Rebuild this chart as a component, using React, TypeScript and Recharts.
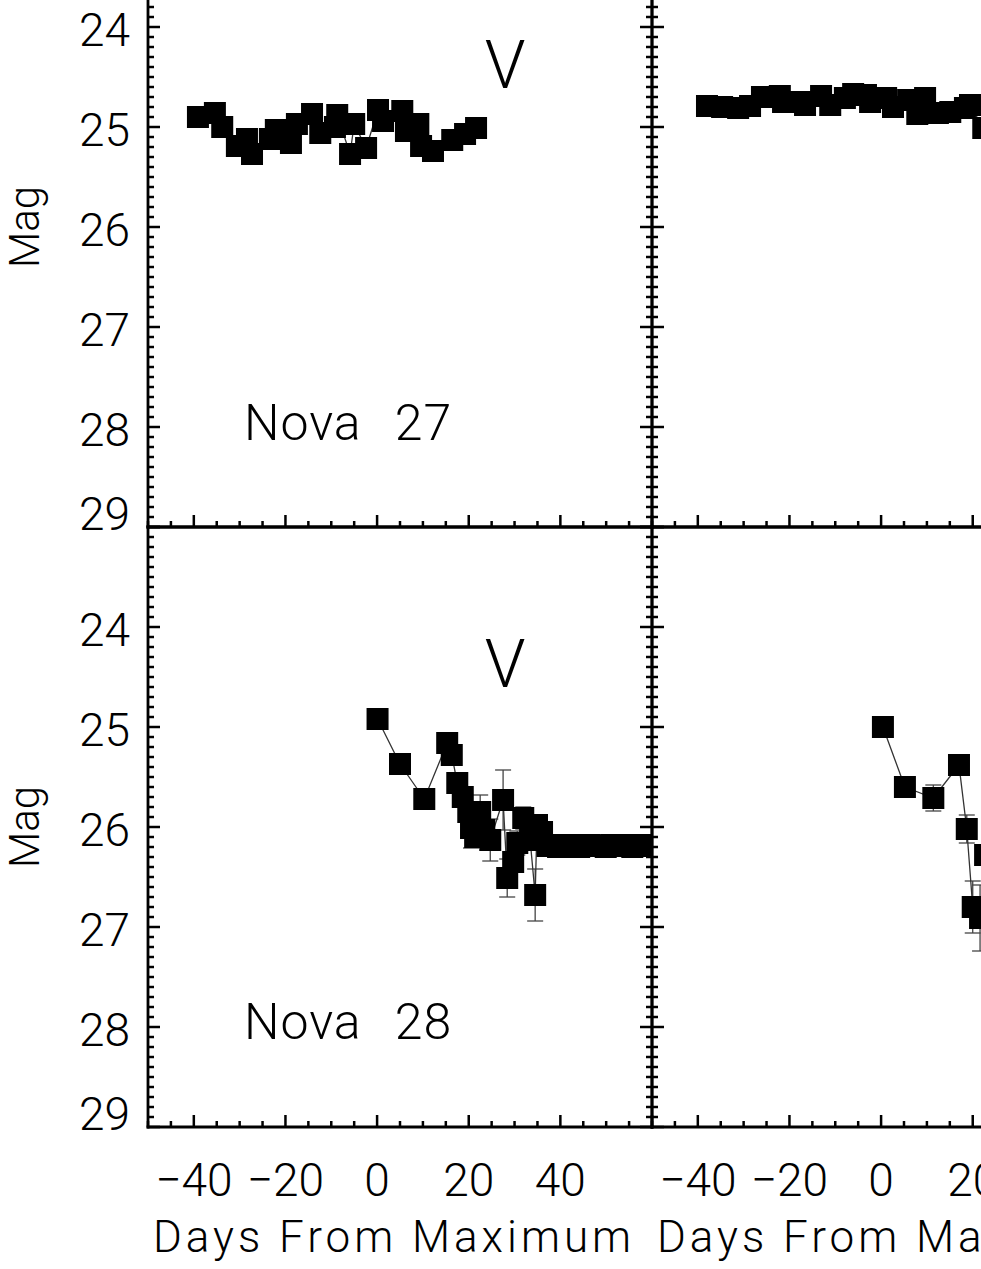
import type { ReactNode } from 'react'
import { ScatterChart, Scatter, XAxis, YAxis, ErrorBar } from 'recharts'

const FONT = "Roboto, 'Liberation Sans', Arial, sans-serif"

// axis ranges and the ticks that carry a label
const dayRange: [number, number] = [-50, 60]
const magRange: [number, number] = [23, 29]
const dayLabels = [-40, -20, 0, 20, 40]
const magLabels = [24, 25, 26, 27, 28, 29]

// Nova 27, V (left column, top row)
const n27vDays = [-39.1, -35.4, -33.8, -30.6, -28.4, -27.3, -23.4, -22.1, -18.8, -17.5, -14.2, -12.4, -9.2, -8.7, -5.9, -5.0, -2.4, 0.2, 1.3, 5.5, 6.3, 9.0, 9.6, 12.2, 16.4, 19.2, 21.6]
const n27vMags = [24.90, 24.86, 25.00, 25.19, 25.12, 25.27, 25.12, 25.03, 25.16, 24.97, 24.87, 25.06, 25.00, 24.88, 25.27, 24.97, 25.21, 24.83, 24.94, 24.84, 25.04, 24.97, 25.19, 25.24, 25.13, 25.07, 25.01]

// Nova 27, second filter (right column, top row)
const n27bDays = [-38.0, -34.7, -31.2, -28.6, -26.0, -22.1, -21.4, -17.7, -16.6, -13.1, -11.1, -7.9, -6.1, -3.3, -2.4, 1.1, 2.6, 5.9, 7.9, 9.6, 12.4, 15.1, 18.3, 19.4, 22.3]
const n27bMags = [24.79, 24.80, 24.81, 24.79, 24.70, 24.69, 24.75, 24.75, 24.78, 24.69, 24.78, 24.71, 24.67, 24.68, 24.75, 24.71, 24.80, 24.73, 24.87, 24.71, 24.86, 24.85, 24.81, 24.78, 25.01]

// Nova 28, V (left column, bottom row)
const n28vDays = [0.1, 5.0, 10.3, 15.3, 16.3, 17.5, 18.7, 19.9, 20.5, 21.4, 22.5, 23.4, 24.7, 27.5, 28.4, 29.7, 30.6, 31.9, 33.4, 34.5, 34.9, 36.0,
  37.2, 38.3, 39.5, 40.6, 41.8, 43.0, 44.1, 45.3, 46.4, 47.6, 48.8, 49.9, 51.1, 52.2, 53.4, 54.6, 55.7, 56.9, 58.0, 59.2, 60.3, 61.5]
const n28vMags = [24.92, 25.37, 25.72, 25.16, 25.28, 25.56, 25.70, 25.85, 26.01, 26.10, 25.85, 26.03, 26.13, 25.73, 26.51, 26.35, 26.16, 25.91, 26.13, 26.68, 25.98, 26.05,
  26.19, 26.18, 26.20, 26.19, 26.18, 26.19, 26.20, 26.19, 26.18, 26.19, 26.19, 26.20, 26.18, 26.19, 26.19, 26.18, 26.20, 26.19, 26.18, 26.19, 26.19, 26.18]
const n28vErrs = [0.03, 0.03, 0.06, 0.03, 0.04, 0.06, 0.08, 0.05, 0.20, 0.08, 0.17, 0.10, 0.21, 0.30, 0.19, 0.10, 0.12, 0.11, 0.10, 0.26, 0.08, 0.10,
  0, 0, 0, 0, 0, 0, 0, 0, 0, 0, 0, 0, 0, 0, 0, 0, 0, 0, 0, 0, 0, 0]

// Nova 28, second filter (right column, bottom row)
const n28bDays = [0.4, 5.2, 11.4, 17.0, 18.7, 20.0, 21.6, 22.7]
const n28bMags = [25.00, 25.60, 25.71, 25.38, 26.02, 26.80, 26.91, 26.28]
const n28bErrs = [0.03, 0.05, 0.13, 0.04, 0.14, 0.26, 0.33, 0.10]

type Row = { day: number; mag: number; err: number }

function toRows(days: number[], mags: number[], errs?: number[]): Row[] {
  return days.map((d, i) => ({ day: d, mag: mags[i], err: errs ? errs[i] : 0 }))
}

// minor + major tick positions along an axis
function stepTicks(lo: number, hi: number, step: number): number[] {
  const out: number[] = []
  const n = Math.round((hi - lo) / step)
  for (let i = 0; i <= n; i++) out.push(Math.round((lo + i * step) * 100) / 100)
  return out
}
const dayTicks = stepTicks(dayRange[0], dayRange[1], 5)
const magTicks = stepTicks(magRange[0], magRange[1], 0.1)

const textStyle = { fontFamily: FONT, fontWeight: 300, fill: '#000' }
const tickLine = { stroke: '#000', strokeWidth: 2.5 }
const frame = { stroke: '#000', strokeWidth: 2.8, strokeLinecap: 'square' as const }

const fmtDay = (v: number) => (v < 0 ? `\u2212${Math.abs(v)}` : `${v}`)

// ticks drawn inward from the frame, IDL style
function dayTick(side: 'top' | 'bottom', withLabels: boolean) {
  return (p: any) => {
    const v = p.payload.value as number
    const len = v % 20 === 0 ? 12 : 6
    const d = side === 'bottom' ? -1 : 1
    return (
      <g>
        <line x1={p.x} y1={p.y} x2={p.x} y2={p.y + d * len} {...tickLine} />
        {withLabels && dayLabels.includes(v) && (
          <text x={p.x} y={p.y + 69} textAnchor="middle" fontSize={46} style={textStyle}>
            {fmtDay(v)}
          </text>
        )}
      </g>
    )
  }
}

function magTick(side: 'left' | 'right', withLabels: boolean) {
  return (p: any) => {
    const v = p.payload.value as number
    const major = Math.abs(v - Math.round(v)) < 1e-6
    const len = major ? 12 : 6
    const d = side === 'left' ? 1 : -1
    const show = withLabels && major && magLabels.includes(Math.round(v))
    const isLast = Math.round(v) === magLabels[magLabels.length - 1]
    return (
      <g>
        <line x1={p.x} y1={p.y} x2={p.x + d * len} y2={p.y} {...tickLine} />
        {show && (
          <text x={p.x - 18} y={p.y + (isLast ? 3 : 19)} textAnchor="end" fontSize={46} style={textStyle}>
            {Math.round(v)}
          </text>
        )}
      </g>
    )
  }
}

const Square = (p: any) => {
  if (p.cx == null || p.cy == null) return null
  return <rect x={p.cx - 11} y={p.cy - 11} width={22} height={22} fill="#000" />
}

interface PanelOpts {
  rows: Row[]
  width: number
  height: number
  margin: { top: number; right: number; bottom: number; left: number }
  leftAxisW: number
  bottomAxisH: number
  yLabels: boolean
  xLabels: boolean
  errors: boolean
  extra?: ReactNode
}

function panel(o: PanelOpts) {
  return (
    <ScatterChart width={o.width} height={o.height} margin={o.margin}>
      <XAxis
        xAxisId="b"
        dataKey="day"
        type="number"
        domain={dayRange}
        allowDataOverflow
        ticks={dayTicks}
        interval={0}
        height={o.bottomAxisH}
        tickSize={0}
        tickMargin={0}
        tickLine={false}
        axisLine={frame}
        tick={dayTick('bottom', o.xLabels)}
      />
      <XAxis
        xAxisId="t"
        orientation="top"
        type="number"
        domain={dayRange}
        allowDataOverflow
        ticks={dayTicks}
        interval={0}
        height={1}
        tickSize={0}
        tickMargin={0}
        tickLine={false}
        axisLine={frame}
        tick={dayTick('top', false)}
      />
      <YAxis
        yAxisId="l"
        dataKey="mag"
        type="number"
        domain={magRange}
        reversed
        allowDataOverflow
        ticks={magTicks}
        interval={0}
        width={o.leftAxisW}
        tickSize={0}
        tickMargin={0}
        tickLine={false}
        axisLine={frame}
        tick={magTick('left', o.yLabels)}
      />
      <YAxis
        yAxisId="r"
        orientation="right"
        type="number"
        domain={magRange}
        reversed
        allowDataOverflow
        ticks={magTicks}
        interval={0}
        width={1}
        tickSize={0}
        tickMargin={0}
        tickLine={false}
        axisLine={frame}
        tick={magTick('right', false)}
      />
      <Scatter
        xAxisId="b"
        yAxisId="l"
        data={o.rows}
        dataKey="mag"
        shape={Square}
        line={{ stroke: '#333', strokeWidth: 1.3 }}
        lineType="joint"
        isAnimationActive={false}
      >
        {o.errors && (
          <ErrorBar dataKey="err" direction="y" width={8} stroke="#444" strokeWidth={1.3} />
        )}
      </Scatter>
      {o.extra}
    </ScatterChart>
  )
}

function magTitle(cx: number, cy: number) {
  return (
    <text x={cx} y={cy} transform={`rotate(-90 ${cx} ${cy})`} textAnchor="middle" fontSize={42} style={textStyle}>
      Mag
    </text>
  )
}

function daysTitle(cx: number, y: number) {
  return (
    <text x={cx} y={y} textAnchor="middle" fontSize={44} letterSpacing={4} style={textStyle}>
      Days From Maximum
    </text>
  )
}

function novaTitle(name: string, x: number, y: number) {
  return (
    <text x={x} y={y} fontSize={50} letterSpacing={1} wordSpacing={20} style={textStyle}>
      {name}
    </text>
  )
}

function bandTitle(band: string, cx: number, y: number) {
  return (
    <text x={cx} y={y} textAnchor="middle" fontSize={66} style={textStyle}>
      {band}
    </text>
  )
}

export default function App() {
  // plot frames: left column x 148..652, right column x 652..1156,
  // top row y -73..527, bottom row y 527..1127
  const leftTop = { top: 6, right: 8, bottom: 12, left: 0 }
  const leftBottom = { top: 6, right: 8, bottom: 0, left: 0 }
  const rightTop = { top: 6, right: 8, bottom: 12, left: 8 }
  const rightBottom = { top: 6, right: 8, bottom: 0, left: 8 }

  return (
    <div
      style={{
        position: 'absolute',
        left: 0,
        top: 0,
        width: 981,
        height: 1269,
        overflow: 'hidden',
        background: '#fff',
      }}
    >
      <div style={{ position: 'absolute', left: 0, top: -80 }}>
        {panel({
          rows: toRows(n27vDays, n27vMags),
          width: 661,
          height: 620,
          margin: leftTop,
          leftAxisW: 148,
          bottomAxisH: 1,
          yLabels: true,
          xLabels: false,
          errors: false,
          extra: (
            <g>
              {magTitle(39, 307)}
              {bandTitle('V', 505, 168)}
              {novaTitle('Nova 27', 244, 520)}
            </g>
          ),
        })}
      </div>
      <div style={{ position: 'absolute', left: 643, top: -80 }}>
        {panel({
          rows: toRows(n27bDays, n27bMags),
          width: 522,
          height: 620,
          margin: rightTop,
          leftAxisW: 1,
          bottomAxisH: 1,
          yLabels: false,
          xLabels: false,
          errors: false,
        })}
      </div>
      <div style={{ position: 'absolute', left: 0, top: 520 }}>
        {panel({
          rows: toRows(n28vDays, n28vMags, n28vErrs),
          width: 661,
          height: 749,
          margin: leftBottom,
          leftAxisW: 148,
          bottomAxisH: 142,
          yLabels: true,
          xLabels: true,
          errors: true,
          extra: (
            <g>
              {magTitle(39, 307)}
              {bandTitle('V', 505, 167)}
              {novaTitle('Nova 28', 244, 519)}
              {daysTitle(394, 732)}
            </g>
          ),
        })}
      </div>
      <div style={{ position: 'absolute', left: 643, top: 520 }}>
        {panel({
          rows: toRows(n28bDays, n28bMags, n28bErrs),
          width: 522,
          height: 749,
          margin: rightBottom,
          leftAxisW: 1,
          bottomAxisH: 142,
          yLabels: false,
          xLabels: true,
          errors: true,
          extra: <g>{daysTitle(255, 732)}</g>,
        })}
      </div>
    </div>
  )
}
